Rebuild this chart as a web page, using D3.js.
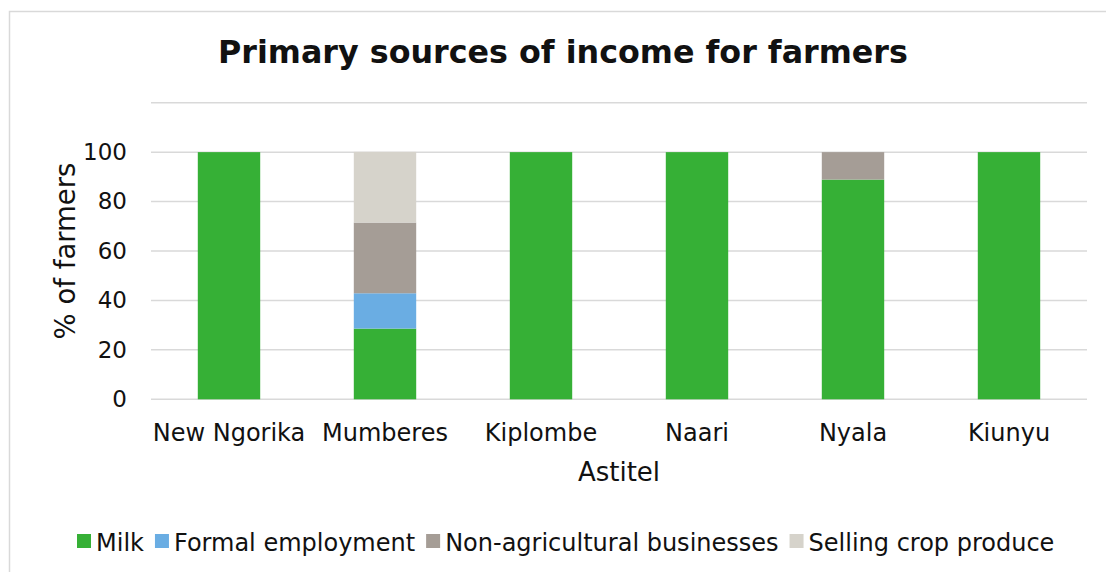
<!DOCTYPE html>
<html>
<head>
<meta charset="utf-8">
<script src="https://cdn.jsdelivr.net/npm/d3@7"></script>
<style>
  html, body { margin: 0; padding: 0; background: #fff; }
  svg text { font-family: Verdana, "DejaVu Sans", sans-serif; fill: #111; }
</style>
</head>
<body>
<svg id="chart" width="1106" height="572"></svg>
<script>
// Villages surveyed
const categories = ["New Ngorika", "Mumberes", "Kiplombe", "Naari", "Nyala", "Kiunyu"];

// Share of farmers (%) by primary source of income
const seriesNames = ["Milk", "Formal employment", "Non-agricultural businesses", "Selling crop produce"];
const milk              = [100, 28.6, 100, 100, 88.9, 100];
const formalEmployment  = [0,   14.3, 0,   0,   0,    0];
const nonAgriBusinesses = [0,   28.6, 0,   0,   11.1, 0];
const sellingCrops      = [0,   28.6, 0,   0,   0,    0];

const yGridTicks  = [0, 20, 40, 60, 80, 100, 120];
const yLabelTicks = [0, 20, 40, 60, 80, 100];

const colors = ["#36b036", "#6aade3", "#a59d96", "#d6d3cb"];

const W = 1106, H = 572;
const plot = { left: 151, right: 1087, top: 102.7, bottom: 399.3 };
const FONT = 'Verdana, "DejaVu Sans", sans-serif';

const svg = d3.select("#chart");

svg.append("rect").attr("width", W).attr("height", H).attr("fill", "#fff");
// chart area frame
svg.append("rect")
  .attr("x", 9.5).attr("y", 11.5)
  .attr("width", W + 20).attr("height", H + 20)
  .attr("fill", "none").attr("stroke", "#d9d9d9").attr("stroke-width", 1.5);

// Rows for stacking
const rows = categories.map((c, i) => ({
  village: c,
  "Milk": milk[i],
  "Formal employment": formalEmployment[i],
  "Non-agricultural businesses": nonAgriBusinesses[i],
  "Selling crop produce": sellingCrops[i]
}));
const stacked = d3.stack().keys(seriesNames)(rows);

const x = d3.scaleBand()
  .domain(categories)
  .range([plot.left, plot.right])
  .paddingInner(0.6)
  .paddingOuter(0.3);

const y = d3.scaleLinear().domain([0, 120]).range([plot.bottom, plot.top]);

// Gridlines
svg.append("g")
  .selectAll("line")
  .data(yGridTicks)
  .join("line")
  .attr("x1", plot.left).attr("x2", plot.right)
  .attr("y1", d => y(d)).attr("y2", d => y(d))
  .attr("stroke", "#d9d9d9").attr("stroke-width", 1.5);

// Y axis labels
const yAxis = d3.axisLeft(y).tickValues(yLabelTicks).tickSize(0).tickPadding(24);
const gy = svg.append("g").attr("transform", `translate(${plot.left},0)`).call(yAxis);
gy.select(".domain").remove();
gy.selectAll("text")
  .style("font-family", FONT)
  .attr("font-size", 23).attr("fill", "#111");

// Bars
svg.append("g")
  .selectAll("g")
  .data(stacked)
  .join("g")
  .attr("fill", (d, i) => colors[i])
  .selectAll("rect")
  .data(d => d)
  .join("rect")
  .attr("x", d => x(d.data.village))
  .attr("width", x.bandwidth())
  .attr("y", d => y(d[1]))
  .attr("height", d => y(d[0]) - y(d[1]));

// X axis labels
const xAxis = d3.axisBottom(x).tickSize(0).tickPadding(25);
const gx = svg.append("g").attr("transform", `translate(0,${plot.bottom})`).call(xAxis);
gx.select(".domain").remove();
gx.selectAll("text")
  .style("font-family", FONT)
  .attr("font-size", 24).attr("fill", "#111");

// Title, fitted to its width
const title = svg.append("text")
  .attr("x", 563).attr("y", 63)
  .attr("text-anchor", "middle")
  .attr("font-weight", "bold")
  .attr("font-size", 28)
  .text("Primary sources of income for farmers");
const tw = title.node().getComputedTextLength();
title.attr("font-size", 28 * 690 / tw);

// Axis titles
svg.append("text")
  .attr("transform", `translate(75,${(plot.top + plot.bottom) / 2}) rotate(-90)`)
  .attr("text-anchor", "middle")
  .attr("font-size", 27.5)
  .text("% of farmers");

svg.append("text")
  .attr("x", 619).attr("y", 481)
  .attr("text-anchor", "middle")
  .attr("font-size", 26)
  .text("Astitel");

// Legend
const legend = svg.append("g");
let lx = 77;
seriesNames.forEach((name, i) => {
  legend.append("rect")
    .attr("x", lx).attr("y", 534)
    .attr("width", 14).attr("height", 14)
    .attr("fill", colors[i]);
  const t = legend.append("text")
    .attr("x", lx + 19).attr("y", 550.5)
    .attr("font-size", 24)
    .text(name);
  lx += 19 + t.node().getComputedTextLength() + 11;
});
</script>
</body>
</html>
